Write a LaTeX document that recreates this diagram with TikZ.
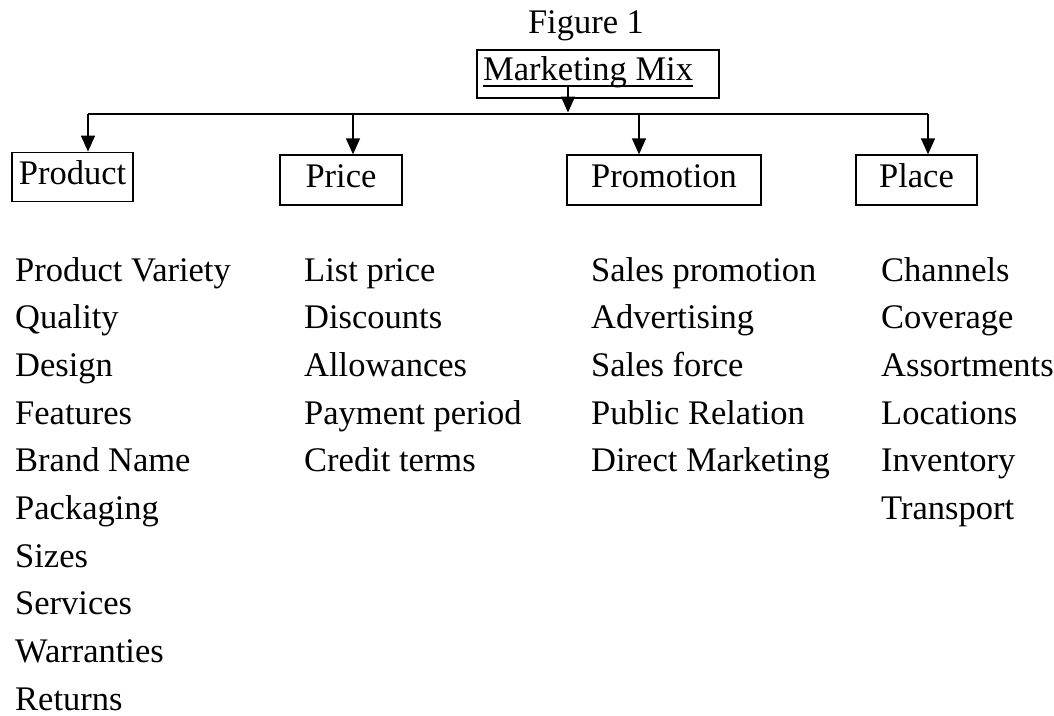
\documentclass[tikz,border=0pt]{standalone}
\usepackage{fontspec}
\setmainfont{Liberation Serif}
\usetikzlibrary{arrows.meta}

\begin{document}
\begin{tikzpicture}[x=1pt, y=-1pt,
    font=\fontsize{34.5}{41}\selectfont,
    catbox/.style={draw, line width=1.3pt, inner sep=0pt, minimum height=50pt,
                   text height=24pt, text depth=10pt},
    arr/.style={-{Triangle[length=16pt,width=14pt]}, line width=1.3pt},
    item/.style={anchor=base west, inner sep=0pt}]
        % 画布范围
        \useasboundingbox (0,0) rectangle (1054,715);

        % 标题与顶层方框
        \node[anchor=base, inner sep=0pt] (title) at (586,33) {Figure 1};
        \node[catbox, minimum width=242pt, minimum height=48pt] (mix) at (598,74) {};
        \node[item] (mixtxt) at (483,80) {Marketing Mix};
        \draw[line width=1.8pt] ([yshift=-6pt]mixtxt.base west) -- ([yshift=-6pt]mixtxt.base east);

        % 四个分类方框
        \node[catbox, minimum width=121pt, minimum height=49.5pt] (prod) at (72.5,177) {Product};
        \node[catbox, minimum width=122pt] (price) at (341,180) {Price};
        \node[catbox, minimum width=194pt] (promo) at (664,180) {Promotion};
        \node[catbox, minimum width=121pt] (place) at (916.5,180) {Place};

        % 连接线
        \coordinate (bus1) at (88,114);
        \coordinate (bus2) at (353,114);
        \coordinate (bus3) at (639,114);
        \coordinate (bus4) at (928,114);
        \coordinate (mixfoot) at (568,86);
        \draw[line width=1.3pt] (bus1) -- (bus4);
        \draw[arr, shorten >=1.5pt] (mixfoot) -- (mixfoot |- bus1);
        \draw[arr] (bus1) -- (bus1 |- prod.north);
        \draw[arr] (bus2) -- (bus2 |- price.north);
        \draw[arr] (bus3) -- (bus3 |- promo.north);
        \draw[arr] (bus4) -- (bus4 |- place.north);

        % 各列条目
        \foreach \txt [count=\i] in {Product Variety, Quality, Design, Features, Brand Name,
                                     Packaging, Sizes, Services, Warranties, Returns}
          \node[item] (prod\i) at (15,{281+47.7*(\i-1)}) {\txt};
        \foreach \txt [count=\i] in {List price, Discounts, Allowances, Payment period, Credit terms}
          \node[item] (price\i) at (304,{281+47.7*(\i-1)}) {\txt};
        \foreach \txt [count=\i] in {Sales promotion, Advertising, Sales force, Public Relation, Direct Marketing}
          \node[item] (promo\i) at (591,{281+47.7*(\i-1)}) {\txt};
        \foreach \txt [count=\i] in {Channels, Coverage, Assortments, Locations, Inventory, Transport}
          \node[item] (place\i) at (881,{281+47.7*(\i-1)}) {\txt};
\end{tikzpicture}
\end{document}
